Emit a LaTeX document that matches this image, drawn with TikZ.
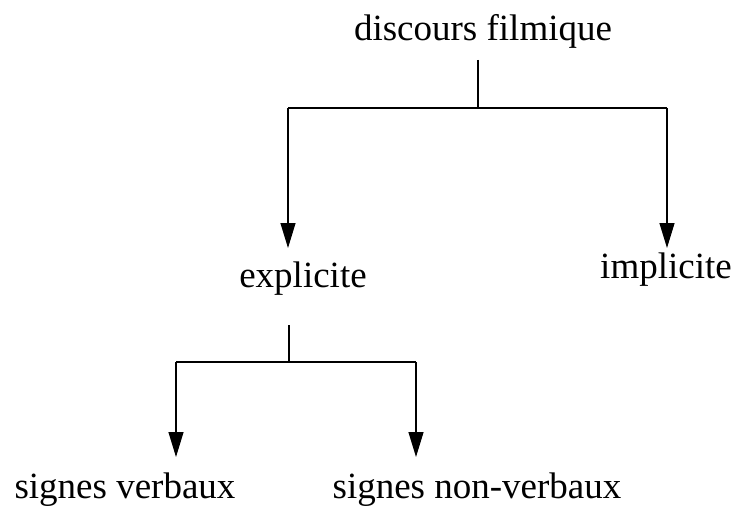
\documentclass[tikz,border=0pt]{standalone}
\usepackage{fontspec}
\setmainfont{Liberation Serif}
\usetikzlibrary{arrows.meta}

\begin{document}
\begin{tikzpicture}[
    x=1pt, y=-1pt,
    >={Triangle[length=25pt, width=15pt]},
    line width=1.2pt,
    label/.style={anchor=base, inner sep=0pt, font=\fontsize{37}{44}\selectfont}
]
    \useasboundingbox (0,0) rectangle (736,508);

    % Labels
    \node[label] (discours) at (483,41) {discours filmique};
    \node[label] (explicite) at (303,287) {explicite};
    \node[label] (implicite) at (666,278) {implicite};
    \node[label] (verbaux) at (125,498) {signes verbaux};
    \node[label] (nonverbaux) at (477,498) {signes non-verbaux};

    % Branch points
    \coordinate (d-top) at (478,60);
    \coordinate (d-mid) at (478,108);
    \coordinate (d-left) at (288,108);
    \coordinate (d-right) at (667,108);
    \coordinate (e-top) at (289,325);
    \coordinate (e-mid) at (289,362);
    \coordinate (e-left) at (176,362);
    \coordinate (e-right) at (416,362);

    % First level
    \draw (d-top) -- (d-mid);
    \draw (d-left) -- (d-right);
    \draw[->] (d-left) -- (d-left |- 0,248);
    \draw[->] (d-right) -- (d-right |- 0,248);

    % Second level
    \draw (e-top) -- (e-mid);
    \draw (e-left) -- (e-right);
    \draw[->] (e-left) -- (e-left |- 0,457);
    \draw[->] (e-right) -- (e-right |- 0,457);

\end{tikzpicture}
\end{document}
